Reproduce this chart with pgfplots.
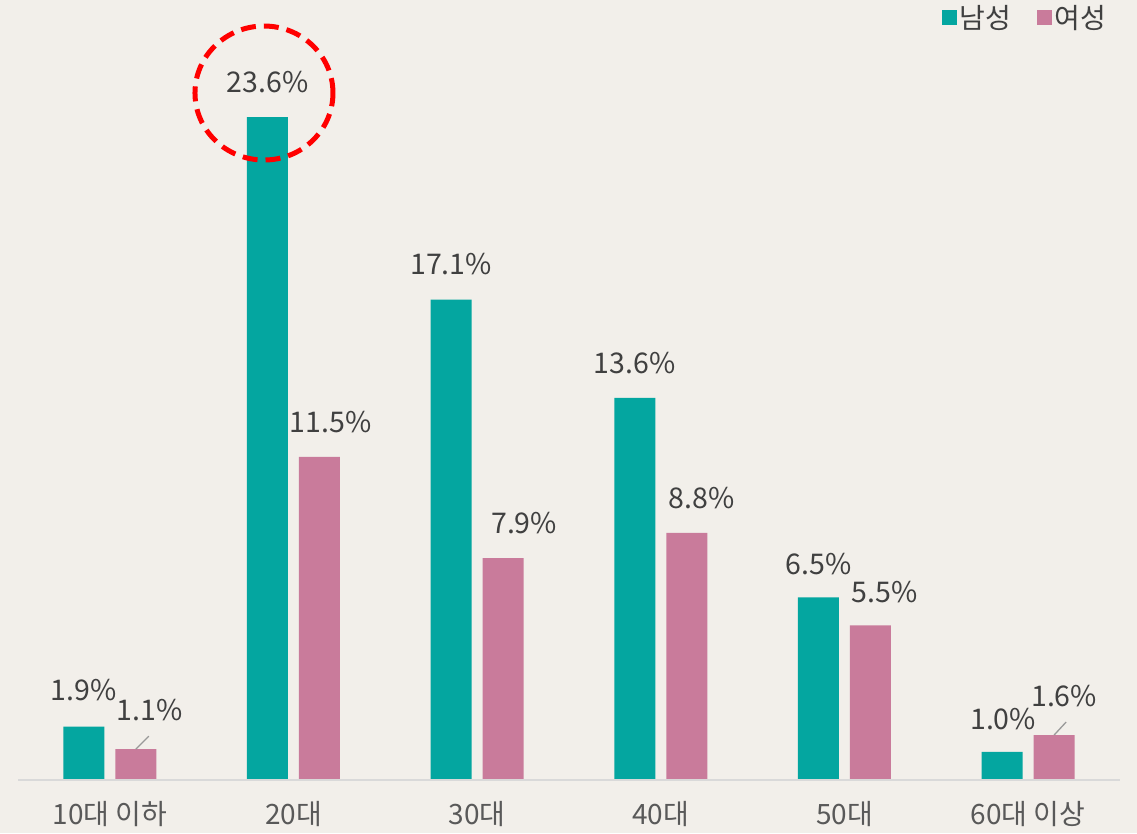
\documentclass[border=0pt]{standalone}
\usepackage{pgfplots}
\pgfplotsset{compat=1.18}
\usepackage{pgfplotstable}
\usepackage{fontspec}
\setmainfont{Noto Sans CJK KR}
\definecolor{bg}{HTML}{F2EFEA}
\definecolor{teal1}{HTML}{04A6A0}
\definecolor{pink1}{HTML}{C97B9B}
\definecolor{labc}{HTML}{404040}
\definecolor{tickc}{HTML}{595959}
\definecolor{basec}{HTML}{D9D9D9}
\pgfplotstableread{
x y dx dy
0 1.9 0 37
1 23.6 0 35
2 17.1 0 36
3 13.6 0 35
4 6.5 0 33
5 1.0 1 33
}\male
\pgfplotstableread{
x y dx dy
0 1.1 14 39
1 11.5 11 35
2 7.9 21 35
3 8.8 15 35
4 5.5 14 33
5 1.6 10 39
}\female
\begin{document}
\begin{tikzpicture}
\fill[bg] (0,0) rectangle (1137pt,833pt);
\begin{axis}[
  at={(18pt,53pt)}, anchor=south west,
  scale only axis, width=1102pt, height=730.4pt,
  xmin=-0.5, xmax=5.5, ymin=0, ymax=26,
  enlargelimits=false, clip=false,
  axis line style={draw=none},
  ytick=\empty,
  xtick={0,1,2,3,4,5},
  xticklabels={10대 이하,20대,30대,40대,50대,60대 이상},
  major tick length=0pt,
  xticklabel style={anchor=center, yshift=-34pt, font=\fontsize{28}{30}\selectfont, text=tickc},
  ybar=11pt, bar width=41pt,
  point meta=y,
  visualization depends on={\thisrow{dx} \as \labdx},
  visualization depends on={\thisrow{dy} \as \labdy},
  nodes near coords={\pgfmathprintnumber[fixed,fixed zerofill,precision=1,assume math mode=true]{\pgfplotspointmeta}\%},
  every node near coord/.append style={anchor=center, xshift=\labdx pt, yshift=\labdy pt, font=\fontsize{28.5}{30}\selectfont, text=labc},
  legend style={at={(0.993,1.044)}, anchor=east, draw=none, fill=none,
    font=\fontsize{28}{30}\selectfont, text=labc, legend columns=2,
    /tikz/every even column/.append style={column sep=22pt},
    nodes={inner sep=3pt}},
  legend image code/.code={\fill[#1,/tikz/.cd,draw=none] (0pt,-7.5pt) rectangle (15pt,7.5pt);},
]
\addplot[fill=teal1, draw=none] table[x=x,y=y] {\male};
\addplot[fill=pink1, draw=none] table[x=x,y=y] {\female};
\legend{남성,여성}
\draw[basec, line width=1.5pt] (axis description cs:0,0) -- (axis description cs:1,0);
\draw[gray!80, line width=1.3pt] ([xshift=26pt]axis cs:0,1.1) -- ([xshift=39pt,yshift=13pt]axis cs:0,1.1);
\draw[gray!80, line width=1.3pt] ([xshift=26pt]axis cs:5,1.6) -- ([xshift=38pt,yshift=13pt]axis cs:5,1.6);
\draw[red, line width=5pt, dash pattern=on 15pt off 8pt] ([xshift=-29.5pt,yshift=24pt]axis cs:1,23.6) ellipse (69pt and 67pt);
\end{axis}
\end{tikzpicture}
\end{document}
